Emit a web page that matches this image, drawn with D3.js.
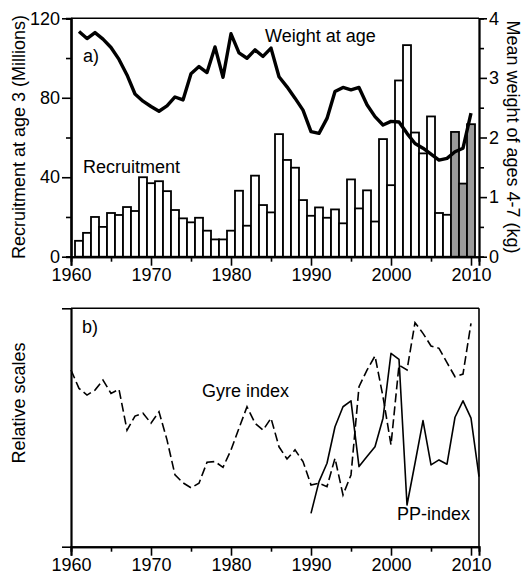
<!DOCTYPE html>
<html><head><meta charset="utf-8">
<script src="https://cdn.jsdelivr.net/npm/d3@7"></script>
<style>
body{margin:0;background:#fff;}
text{font-family:"Liberation Sans",Arial,sans-serif;font-size:18px;fill:#000;}
</style></head>
<body>
<svg id="c" width="522" height="577"></svg>
<script>
// ---------- data ----------
const recYears = d3.range(1961, 2011);
const recruitment = [8,12,20,15,22,21,25,23,40,37,38,33,23.5,19.3,17.3,19.6,13.1,8.7,8.7,13.1,
  33.2,15.6,40.8,26,22.3,61.7,48.7,44.8,28.5,20.6,24.8,19.6,23.8,16.8,38.9,24.3,33.4,17.7,59.2,36,
  88.7,106.5,62.5,52,70.6,22,21.1,62.8,36.8,66.7];
const greyYears = [2008, 2009, 2010];
const weightYears = d3.range(1961, 2011);
const weight = [3.78,3.66,3.76,3.65,3.51,3.31,3.05,2.73,2.61,2.52,2.44,2.53,2.68,2.63,3.07,3.19,3.09,3.52,3.01,3.74,
  3.42,3.33,3.47,3.36,3.50,3.02,2.85,2.66,2.46,2.10,2.07,2.32,2.77,2.84,2.80,2.84,2.55,2.35,2.21,2.27,
  2.26,2.07,1.90,1.82,1.72,1.62,1.65,1.76,1.82,2.41];
const gyreYears = d3.range(1960, 2011);
const gyre = [74.1,66.4,63.6,65.7,69.9,64.3,66.0,48.9,54.8,56.0,51.8,56.6,44.8,30.1,26.8,24.7,26.6,35.4,35.7,33.3,
  40.6,49.7,58.7,51.8,48.9,53.9,41.9,36.8,40.6,35.7,25.9,26.6,25.2,37.1,21.7,30.1,67.1,74.1,80.0,62.9,
  42.7,76.2,74.1,94.0,89.5,84.2,83.2,77.2,71.3,72.4,93.7];
const ppYears = d3.range(1990, 2012);
const pp = [14.0,27.3,35.0,50.3,58.7,61.2,33.6,37.8,41.9,53.9,81.1,78.6,17.5,35.0,52.9,34.3,36.4,34.6,54.3,61.2,53.9,29.4];
const xMajor = [1960,1970,1980,1990,2000,2010];
const xMinor = [1965,1975,1985,1995,2005];
const leftTicks = [0,40,80,120];
const leftMinor = [20,60,100];
const rightTicks = [0,1,2,3,4];
const rightMinor = [0.5,1.5,2.5,3.5];

// ---------- scales ----------
const svg = d3.select("#c");
const x = d3.scaleLinear().domain([1960, 2011]).range([71, 479]);
const yL = d3.scaleLinear().domain([0, 120]).range([256.7, 18.3]);
const yR = d3.scaleLinear().domain([0, 4]).range([256.7, 18.3]);
const yB = d3.scaleLinear().domain([0, 100]).range([546.7, 308.3]);
const fmt = d3.format("d");

function styleAxis(g, w) {
  g.selectAll("path.domain").attr("stroke", "#000").attr("stroke-width", w);
  g.selectAll(".tick line").attr("stroke", "#000").attr("stroke-width", 1.6);
  g.selectAll(".tick text").style("font-size", "18px").style("font-family", '"Liberation Sans",Arial,sans-serif');
}

// ---------- panel a ----------
const A = svg.append("g");
A.selectAll("rect.bar").data(recYears.map((y, i) => ({y, v: recruitment[i]})))
  .join("rect")
  .attr("x", d => x(d.y - 0.5))
  .attr("width", d => x(d.y + 0.5) - x(d.y - 0.5))
  .attr("y", d => yL(d.v))
  .attr("height", d => yL(0) - yL(d.v))
  .attr("fill", d => greyYears.includes(d.y) ? "#9a9a9a" : "#fff")
  .attr("stroke", "#000").attr("stroke-width", 1.8);

A.append("path")
  .datum(weightYears.map((y, i) => [y, weight[i]]))
  .attr("fill", "none").attr("stroke", "#000").attr("stroke-width", 3.4)
  .attr("stroke-linejoin", "round")
  .attr("d", d3.line().x(d => x(d[0])).y(d => yR(d[1])));

A.append("line").attr("x1", x(1960)).attr("x2", x(2011)).attr("y1", yL(120)).attr("y2", yL(120))
  .attr("stroke", "#000").attr("stroke-width", 1.6);

const axA = A.append("g").attr("transform", `translate(0,${yL(0)})`)
  .call(d3.axisBottom(x).tickValues(xMinor).tickSize(5).tickFormat(""));
styleAxis(axA, 2);
const axA2 = A.append("g").attr("transform", `translate(0,${yL(0)})`)
  .call(d3.axisBottom(x).tickValues(xMajor).tickSize(9).tickPadding(3).tickFormat(fmt));
styleAxis(axA2, 2);

const lA = A.append("g").attr("transform", `translate(${x(1960)},0)`)
  .call(d3.axisLeft(yL).tickValues(leftMinor).tickSize(5).tickFormat(""));
styleAxis(lA, 2.2);
const lA2 = A.append("g").attr("transform", `translate(${x(1960)},0)`)
  .call(d3.axisLeft(yL).tickValues(leftTicks).tickSize(9).tickPadding(2).tickSizeOuter(0).tickFormat(fmt));
styleAxis(lA2, 2.2);

const rA = A.append("g").attr("transform", `translate(${x(2011)},0)`)
  .call(d3.axisRight(yR).tickValues(rightMinor).tickSize(5).tickFormat(""));
styleAxis(rA, 1.8);
const rA2 = A.append("g").attr("transform", `translate(${x(2011)},0)`)
  .call(d3.axisRight(yR).tickValues(rightTicks).tickSize(8).tickPadding(2).tickSizeOuter(0).tickFormat(fmt));
styleAxis(rA2, 1.8);

A.append("text").attr("x", 83).attr("y", 62).text("a)");
A.append("text").attr("x", 265).attr("y", 42).text("Weight at age");
A.append("text").attr("x", 83).attr("y", 173).text("Recruitment");
A.append("text").attr("transform", "translate(25,137) rotate(-90)").attr("text-anchor", "middle")
  .text("Recruitment at age 3 (Millions)");
A.append("text").attr("transform", "translate(507,137) rotate(90)").attr("text-anchor", "middle")
  .text("Mean weight of ages 4-7 (kg)");

// ---------- panel b ----------
const B = svg.append("g");
B.append("path")
  .datum(gyreYears.map((y, i) => [y, gyre[i]]))
  .attr("fill", "none").attr("stroke", "#000").attr("stroke-width", 1.6)
  .attr("stroke-dasharray", "9,4")
  .attr("d", d3.line().x(d => x(d[0])).y(d => yB(d[1])));
B.append("path")
  .datum(ppYears.map((y, i) => [y, pp[i]]))
  .attr("fill", "none").attr("stroke", "#000").attr("stroke-width", 1.6)
  .attr("stroke-linejoin", "round")
  .attr("d", d3.line().x(d => x(d[0])).y(d => yB(d[1])));

B.append("line").attr("x1", x(1960)).attr("x2", x(2011)).attr("y1", yB(100)).attr("y2", yB(100))
  .attr("stroke", "#000").attr("stroke-width", 1.6);
B.append("line").attr("x1", x(2011)).attr("x2", x(2011)).attr("y1", yB(100)).attr("y2", yB(0))
  .attr("stroke", "#000").attr("stroke-width", 1.6);

const axB = B.append("g").attr("transform", `translate(0,${yB(0)})`)
  .call(d3.axisBottom(x).tickValues(xMinor).tickSize(5).tickFormat(""));
styleAxis(axB, 2);
const axB2 = B.append("g").attr("transform", `translate(0,${yB(0)})`)
  .call(d3.axisBottom(x).tickValues(xMajor).tickSize(9).tickPadding(3).tickFormat(fmt));
styleAxis(axB2, 2);
const lB = B.append("g").attr("transform", `translate(${x(1960)},0)`)
  .call(d3.axisLeft(yB).tickValues([0, 100]).tickSize(9).tickFormat("").tickSizeOuter(0));
styleAxis(lB, 2.2);

B.append("text").attr("x", 82).attr("y", 333).text("b)");
B.append("text").attr("x", 202).attr("y", 397).text("Gyre index");
B.append("text").attr("x", 397).attr("y", 520).text("PP-index");
B.append("text").attr("transform", "translate(25,403) rotate(-90)").attr("text-anchor", "middle")
  .text("Relative scales");
</script>
</body></html>
